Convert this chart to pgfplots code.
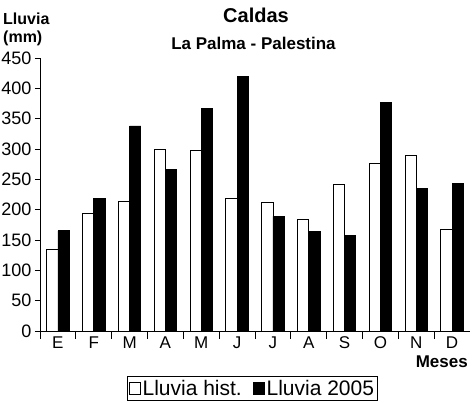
\documentclass[border=0pt]{standalone}
\usepackage{fontspec}
\setmainfont{Liberation Sans}
\usepackage{pgfplots}
\usepackage{pgfplotstable}
\pgfplotsset{compat=1.18}
\pgfplotstableread{
x hist y2005
0 135 165
1 194 219
2 214 338
3 300 267
4 297 367
5 219 420
6 212 189
7 184 164
8 241 158
9 276 377
10 289 235
11 168 243
}\datatable
\begin{document}
\begin{tikzpicture}[x=1pt,y=1pt]
\useasboundingbox (0,0) rectangle (472,403);
\begin{axis}[
  at={(40pt,72pt)}, anchor=south west,
  scale only axis, width=430pt, height=273pt,
  xmin=-0.5, xmax=11.5, ymin=0, ymax=450,
  axis x line*=bottom, axis y line*=left,
  axis line style={-, line width=0.8pt},
  ytick={0,50,...,450},
  ytick align=outside,
  major tick length=5pt,
  xtick={0,...,11},
  xticklabels={E,F,M,A,M,J,J,A,S,O,N,D},
  major x tick style={draw=none},
  minor xtick={-0.5,0.5,...,10.5},
  minor tick length=8pt,
  xtick align=center,
  tick style={black, line width=0.8pt},
  /pgf/number format/assume math mode=true,
  tick label style={font=\fontsize{18}{20}\selectfont},
  xticklabel style={yshift=2.5pt, font=\fontsize{17}{19}\selectfont},
  ybar=0pt, bar width=11.3pt,
  legend columns=2,
  legend style={at={(0.494,-0.2106)}, anchor=center, draw=black, line width=0.8pt,
    font=\fontsize{21}{23}\selectfont, inner sep=1.5pt,
    /tikz/every even column/.append style={column sep=9pt}},
  legend image code/.code={\draw[#1, draw=black, line width=0.8pt] (0pt,-6pt) rectangle (11pt,6pt);},
]
\addplot[fill=white, draw=black, line width=0.8pt] table[x=x, y=hist] {\datatable};
\addlegendentry{Lluvia hist.}
\addplot[fill=black, draw=black, line width=0.8pt] table[x=x, y=y2005] {\datatable};
\addlegendentry{Lluvia 2005}
\end{axis}
\node[font=\bfseries\fontsize{20}{22}\selectfont, anchor=base] at (256,380.3) {Caldas};
\node[font=\bfseries\fontsize{17}{19}\selectfont, anchor=base] at (253.5,353) {La Palma - Palestina};
\node[font=\bfseries\fontsize{16}{18}\selectfont, anchor=base west, inner sep=0pt] at (3,378) {Lluvia};
\node[font=\bfseries\fontsize{16}{18}\selectfont, anchor=base west, inner sep=0pt] at (3,360) {(mm)};
\node[font=\bfseries\fontsize{17}{19}\selectfont, anchor=base east, inner sep=0pt] at (468,35) {Meses};
\end{tikzpicture}
\end{document}
